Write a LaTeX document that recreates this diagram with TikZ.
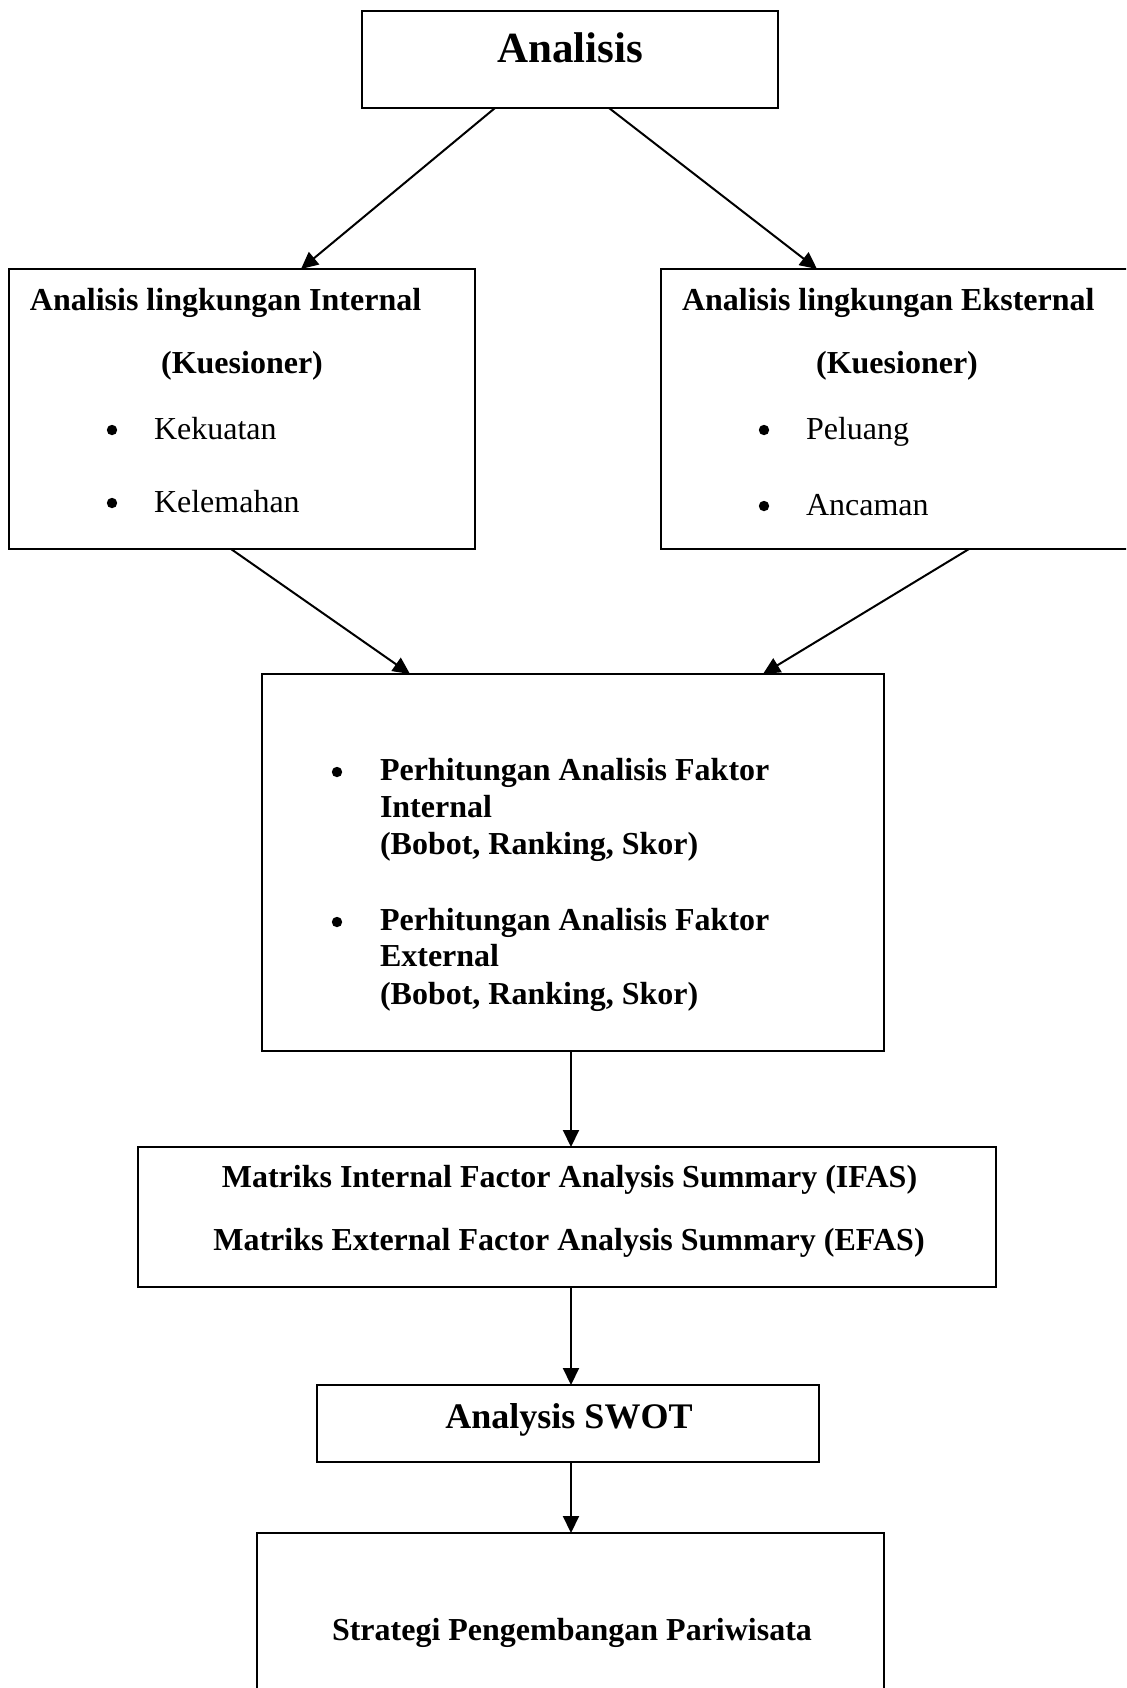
\documentclass[tikz,border=0pt]{standalone}
\usepackage{fontspec}
\setmainfont{Liberation Serif}
\usetikzlibrary{arrows.meta,calc}
\tikzset{
  box/.style={draw, line width=1pt, rectangle, inner sep=0pt, outer sep=0pt},
  txt/.style={inner sep=0pt, outer sep=0pt, anchor=base west, font=\fontsize{16}{19}\selectfont},
  btxt/.style={txt, font=\fontsize{16}{19}\selectfont\bfseries},
  ctxt/.style={btxt, anchor=base},
  bul/.style={circle, fill=black, inner sep=0pt, outer sep=0pt, minimum size=5.2pt},
  arr/.style={line width=1pt, -{Triangle[length=8.5pt,width=8pt]}}
}
\begin{document}
\begin{tikzpicture}[x=0.5pt,y=-0.5pt]
\useasboundingbox (0,0) rectangle (1126,1688);
\fill[white] (0,0) rectangle (1126,1688);
\clip (0,0) rectangle (1126,1688);

% boxes
\node[box, minimum width=208pt, minimum height=48.5pt] (top) at (570,59.5) {};
\node[box, minimum width=233pt, minimum height=140pt] (left) at (242,409) {};
\node[box, minimum width=239.5pt, minimum height=140pt] (right) at (900.5,409) {};
\node[box, minimum width=311pt, minimum height=188.5pt] (mid) at (573,862.5) {};
\node[box, minimum width=429pt, minimum height=70pt] (mat) at (567,1217) {};
\node[box, minimum width=251pt, minimum height=38.5pt] (swot) at (568,1423.5) {};
\node[box, minimum width=313.5pt, minimum height=93.5pt] (strat) at (570.5,1626.5) {};

% top text
\node[ctxt, font=\fontsize{21.5}{25}\selectfont\bfseries] (tAn) at (570,62) {Analisis};

% left box text
\node[btxt] (lT) at (30,310) {Analisis lingkungan Internal};
\node[ctxt] (lK) at (242,373) {(Kuesioner)};
\node[bul] (lb1) at (112,430) {};
\node[txt] (l1) at (154,439) {Kekuatan};
\node[bul] (lb2) at (112,503) {};
\node[txt] (l2) at (154,512) {Kelemahan};

% right box text
\node[btxt] (rT) at (682,310) {Analisis lingkungan Eksternal};
\node[ctxt] (rK) at (897,373) {(Kuesioner)};
\node[bul] (rb1) at (764,430) {};
\node[txt] (r1) at (806,439) {Peluang};
\node[bul] (rb2) at (764,506) {};
\node[txt] (r2) at (806,515) {Ancaman};

% middle box text
\node[bul] (mb1) at (337,772) {};
\node[btxt] (m1a) at (380,780) {Perhitungan Analisis Faktor};
\node[btxt] (m1b) at (380,817) {Internal};
\node[btxt] (m1c) at (380,854) {(Bobot, Ranking, Skor)};
\node[bul] (mb2) at (337,922) {};
\node[btxt] (m2a) at (380,930) {Perhitungan Analisis Faktor};
\node[btxt] (m2b) at (380,966) {External};
\node[btxt] (m2c) at (380,1004) {(Bobot, Ranking, Skor)};

% matriks text
\node[ctxt] (x1) at (569.5,1187) {Matriks Internal Factor Analysis Summary (IFAS)};
\node[ctxt] (x2) at (569,1250) {Matriks External Factor Analysis Summary (EFAS)};

% swot text
\node[ctxt, font=\fontsize{18}{21}\selectfont\bfseries] (sw) at (569,1428) {Analysis SWOT};

% strategi text
\node[ctxt] (st) at (572,1640) {Strategi Pengembangan Pariwisata};

% arrows
\draw[arr] ([xshift=-37.5pt]top.south) -- ([xshift=29.5pt]left.north);
\draw[arr] ([xshift=19.5pt]top.south) -- ([xshift=-41.75pt]right.north);
\draw[arr] ([xshift=-5.5pt]left.south) -- ([xshift=-81.5pt]mid.north);
\draw[arr] ([xshift=34.25pt]right.south) -- ([xshift=95pt]mid.north);
\draw[arr] ([xshift=2pt]mat.north |- mid.south) -- ([xshift=2pt]mat.north);
\draw[arr] ([xshift=2pt]mat.south) -- ([xshift=2pt]mat.south |- swot.north);
\draw[arr] ([xshift=1.5pt]swot.south) -- ([xshift=1.5pt]swot.south |- strat.north);
\end{tikzpicture}
\end{document}
